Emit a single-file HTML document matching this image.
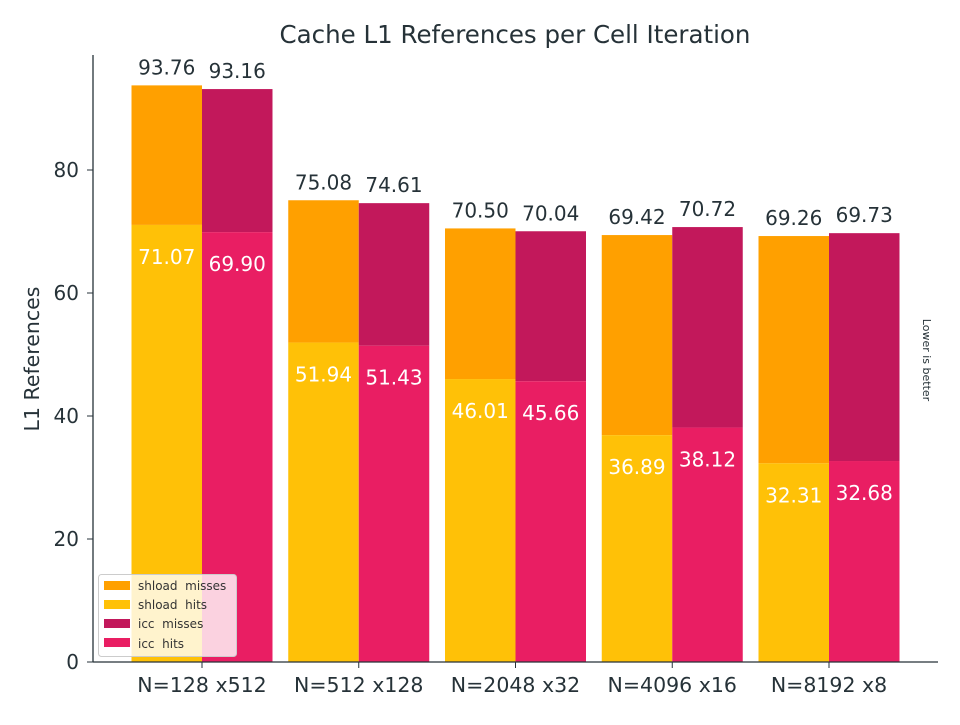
<!DOCTYPE html>
<html><head><meta charset="utf-8"><style>
body{margin:0;background:#fff;}
svg text{font-family:"DejaVu Sans","Liberation Sans",sans-serif;white-space:pre;}
</style></head><body>
<svg id="chart" width="960" height="720" viewBox="0 0 960 720" xmlns="http://www.w3.org/2000/svg">
<text x="515" y="43" font-size="24.5" fill="#263238" text-anchor="middle">Cache L1 References per Cell Iteration</text>
<text transform="translate(39,359) rotate(-90)" font-size="20.5" fill="#263238" text-anchor="middle">L1 References</text>
<text transform="translate(923,360) rotate(90)" font-size="11" fill="#263238" text-anchor="middle">Lower is better</text>
<g id="bars"></g>
<g id="axes"></g>
<g id="legend">
<rect x="98.5" y="574.5" width="138" height="82" rx="3" fill="#fff" fill-opacity="0.8" stroke="#ccc"/>
<rect x="104" y="581" width="26" height="9" fill="#FFA000"/>
<text x="138" y="590" font-size="12" fill="#333" xml:space="preserve">shload  misses</text>
<rect x="104" y="600" width="26" height="9" fill="#FFC107"/>
<text x="138" y="609" font-size="12" fill="#333" xml:space="preserve">shload  hits</text>
<rect x="104" y="619" width="26" height="9" fill="#C2185B"/>
<text x="138" y="628" font-size="12" fill="#333" xml:space="preserve">icc  misses</text>
<rect x="104" y="638" width="26" height="9" fill="#E91E63"/>
<text x="138" y="648" font-size="12" fill="#333" xml:space="preserve">icc  hits</text>
</g>
</svg>
<script>
const categories=["N=128 x512","N=512 x128","N=2048 x32","N=4096 x16","N=8192 x8"];
const shloadTotal=[93.76,75.08,70.50,69.42,69.26];
const shloadHits=[71.07,51.94,46.01,36.89,32.31];
const iccTotal=[93.16,74.61,70.04,70.72,69.73];
const iccHits=[69.90,51.43,45.66,38.12,32.68];
const yTicks=[0,20,40,60,80];
const NS="http://www.w3.org/2000/svg";
const y0=662,pxPer=6.15;
const y=v=>y0-v*pxPer;
const gx=i=>202+i*156.75;
const bw=70.5;
function mk(tag,attrs,parent){const e=document.createElementNS(NS,tag);for(const k in attrs)e.setAttribute(k,attrs[k]);parent.appendChild(e);return e;}
const bars=document.getElementById('bars'),axes=document.getElementById('axes');
categories.forEach((c,i)=>{
  const sets=[[gx(i)-bw,shloadTotal[i],shloadHits[i],"#FFA000","#FFC107","shload"],[gx(i),iccTotal[i],iccHits[i],"#C2185B","#E91E63","icc"]];
  sets.forEach(s=>{
    const [x,t,h,cm,ch,nm]=s;
    let r=mk('rect',{x:x,y:y(t),width:bw,height:y(h)-y(t),fill:cm},bars);
    
    
    r=mk('rect',{x:x,y:y(h),width:bw,height:y0-y(h),fill:ch},bars);
    
    
    let tl=mk('text',{x:x+bw/2,y:y(t)-11,'font-size':20,fill:'#263238','text-anchor':'middle'},bars);
    tl.textContent=t.toFixed(2);
    
    
    let hl=mk('text',{x:x+bw/2,y:y(h)+39,'font-size':20,fill:'#fff','text-anchor':'middle'},bars);
    hl.textContent=h.toFixed(2);
    
    
  });
  mk('line',{x1:gx(i),x2:gx(i),y1:y0,y2:y0+6,stroke:'#263238'},axes);
  const xl=mk('text',{x:gx(i),y:692,'font-size':20.5,fill:'#263238','text-anchor':'middle'},axes);
  xl.textContent=c;
  
  
});
yTicks.forEach(v=>{
  mk('line',{x1:87,x2:93,y1:y(v),y2:y(v),stroke:'#263238'},axes);
  const t=mk('text',{x:79,y:y(v)+7,'font-size':20,fill:'#263238','text-anchor':'end'},axes);
  t.textContent=v;
  
  
});
const ya=mk('line',{x1:93,x2:93,y1:55,y2:y0,stroke:'#263238','stroke-width':1.3},axes);


const xa=mk('line',{x1:93,x2:938,y1:y0,y2:y0,stroke:'#263238','stroke-width':1.3},axes);


</script>
</body></html>
